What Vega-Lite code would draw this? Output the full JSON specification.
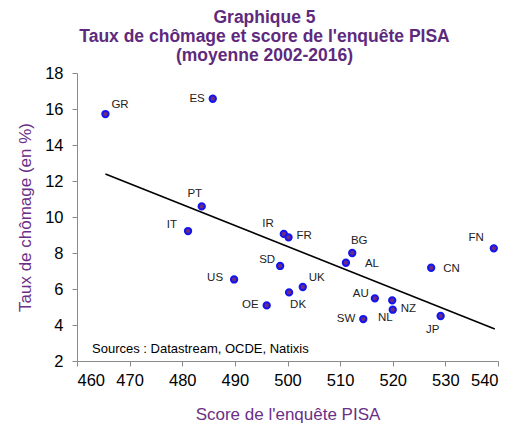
{
  "$schema": "https://vega.github.io/schema/vega-lite/v6.json",
  "width": 421,
  "height": 288,
  "autosize": {"type": "none"},
  "padding": {"left": 77, "top": 73, "right": 29, "bottom": 62},
  "background": "white",
  "title": {
    "text": ["Graphique 5", "Taux de chômage et score de l'enquête PISA", "(moyenne 2002-2016)"],
    "anchor": "middle",
    "frame": "group",
    "dx": -23,
    "offset": 0,
    "font": "Liberation Sans",
    "fontSize": 17.5,
    "fontWeight": "bold",
    "color": "#5e2a7e",
    "lineHeight": 19.3
  },
  "config": {
    "view": {"stroke": null},
    "font": "Liberation Sans",
    "axis": {
      "grid": false,
      "domainColor": "#8a8a8a",
      "tickColor": "#8a8a8a",
      "tickSize": 5,
      "labelFont": "Liberation Sans",
      "labelFontSize": 16.5,
      "labelColor": "#000000",
      "titleFont": "Liberation Sans",
      "titleFontSize": 17,
      "titleFontWeight": "normal",
      "titleColor": "#6a2f86"
    }
  },
  "datasets": {
    "pts": [
      {"c": "GR", "score": 465.4, "u": 15.72},
      {"c": "ES", "score": 485.8, "u": 16.57},
      {"c": "PT", "score": 483.7, "u": 10.59},
      {"c": "IT", "score": 481.1, "u": 9.22},
      {"c": "IR", "score": 499.3, "u": 9.06},
      {"c": "FR", "score": 500.2, "u": 8.87},
      {"c": "SD", "score": 498.6, "u": 7.28},
      {"c": "US", "score": 489.85, "u": 6.53},
      {"c": "DK", "score": 500.3, "u": 5.81},
      {"c": "OE", "score": 496.05, "u": 5.09},
      {"c": "UK", "score": 502.9, "u": 6.11},
      {"c": "BG", "score": 512.3, "u": 8.0},
      {"c": "AL", "score": 511.1, "u": 7.46},
      {"c": "CN", "score": 527.3, "u": 7.18},
      {"c": "FN", "score": 539.2, "u": 8.26},
      {"c": "AU", "score": 516.6, "u": 5.48},
      {"c": "NL", "score": 519.9, "u": 5.37},
      {"c": "NZ", "score": 520.0, "u": 4.85},
      {"c": "SW", "score": 514.4, "u": 4.33},
      {"c": "JP", "score": 529.1, "u": 4.5}
    ],
    "trend": [
      {"score": 465.4, "u": 12.39},
      {"score": 539.4, "u": 3.78}
    ],
    "note": [
      {"score": 462.85, "u": 2.67, "t": "Sources : Datastream, OCDE, Natixis"}
    ]
  },
  "data": {"name": "pts"},
  "encoding": {
    "x": {
      "field": "score", "type": "quantitative",
      "scale": {"domain": [460, 540], "nice": false, "zero": false},
      "axis": {"values": [460, 470, 480, 490, 500, 510, 520, 530, 540], "title": "Score de l'enquête PISA", "labelPadding": 6, "titlePadding": 18}
    },
    "y": {
      "field": "u", "type": "quantitative",
      "scale": {"domain": [2, 18], "nice": false, "zero": false},
      "axis": {"values": [2, 4, 6, 8, 10, 12, 14, 16, 18], "title": "Taux de chômage (en %)", "labelPadding": 9, "titlePadding": 10}
    }
  },
  "layer": [
    {
      "data": {"name": "trend"},
      "mark": {"type": "line", "color": "#000000", "strokeWidth": 1.6},
      "encoding": {}
    },
    {
      "mark": {"type": "point", "shape": "circle", "filled": true, "fill": "#6b2d7d", "stroke": "#1414f0", "strokeWidth": 2, "size": 40, "opacity": 1}
    },
    {
      "transform": [{"filter": {"field": "c", "oneOf": ["ES", "OE", "SW"]}}],
      "mark": {"type": "text", "align": "right", "baseline": "middle", "dx": -8, "dy": 0, "fontSize": 11.5, "color": "#222222"},
      "encoding": {"text": {"field": "c"}}
    },
    {
      "transform": [{"filter": {"field": "c", "oneOf": ["US"]}}],
      "mark": {"type": "text", "align": "right", "baseline": "middle", "dx": -11, "dy": -1, "fontSize": 11.5, "color": "#222222"},
      "encoding": {"text": {"field": "c"}}
    },
    {
      "transform": [{"filter": {"field": "c", "oneOf": ["IT"]}}],
      "mark": {"type": "text", "align": "right", "baseline": "middle", "dx": -11, "dy": -6, "fontSize": 11.5, "color": "#222222"},
      "encoding": {"text": {"field": "c"}}
    },
    {
      "transform": [{"filter": {"field": "c", "oneOf": ["SD"]}}],
      "mark": {"type": "text", "align": "right", "baseline": "middle", "dx": -5, "dy": -6, "fontSize": 11.5, "color": "#222222"},
      "encoding": {"text": {"field": "c"}}
    },
    {
      "transform": [{"filter": {"field": "c", "oneOf": ["IR", "FN"]}}],
      "mark": {"type": "text", "align": "right", "baseline": "middle", "dx": -10, "dy": -10, "fontSize": 11.5, "color": "#222222"},
      "encoding": {"text": {"field": "c"}}
    },
    {
      "transform": [{"filter": {"field": "c", "oneOf": ["AU"]}}],
      "mark": {"type": "text", "align": "right", "baseline": "middle", "dx": -6, "dy": -4, "fontSize": 11.5, "color": "#222222"},
      "encoding": {"text": {"field": "c"}}
    },
    {
      "transform": [{"filter": {"field": "c", "oneOf": ["GR", "UK"]}}],
      "mark": {"type": "text", "align": "left", "baseline": "middle", "dx": 6, "dy": -9, "fontSize": 11.5, "color": "#222222"},
      "encoding": {"text": {"field": "c"}}
    },
    {
      "transform": [{"filter": {"field": "c", "oneOf": ["FR", "NZ"]}}],
      "mark": {"type": "text", "align": "left", "baseline": "middle", "dx": 8, "dy": -1, "fontSize": 11.5, "color": "#222222"},
      "encoding": {"text": {"field": "c"}}
    },
    {
      "transform": [{"filter": {"field": "c", "oneOf": ["CN"]}}],
      "mark": {"type": "text", "align": "left", "baseline": "middle", "dx": 12, "dy": 1, "fontSize": 11.5, "color": "#222222"},
      "encoding": {"text": {"field": "c"}}
    },
    {
      "transform": [{"filter": {"field": "c", "oneOf": ["AL"]}}],
      "mark": {"type": "text", "align": "left", "baseline": "middle", "dx": 19, "dy": 1, "fontSize": 11.5, "color": "#222222"},
      "encoding": {"text": {"field": "c"}}
    },
    {
      "transform": [{"filter": {"field": "c", "oneOf": ["PT"]}}],
      "mark": {"type": "text", "align": "center", "baseline": "middle", "dx": -7, "dy": -12, "fontSize": 11.5, "color": "#222222"},
      "encoding": {"text": {"field": "c"}}
    },
    {
      "transform": [{"filter": {"field": "c", "oneOf": ["BG"]}}],
      "mark": {"type": "text", "align": "center", "baseline": "middle", "dx": 7, "dy": -12, "fontSize": 11.5, "color": "#222222"},
      "encoding": {"text": {"field": "c"}}
    },
    {
      "transform": [{"filter": {"field": "c", "oneOf": ["DK"]}}],
      "mark": {"type": "text", "align": "center", "baseline": "middle", "dx": 9, "dy": 13, "fontSize": 11.5, "color": "#222222"},
      "encoding": {"text": {"field": "c"}}
    },
    {
      "transform": [{"filter": {"field": "c", "oneOf": ["JP"]}}],
      "mark": {"type": "text", "align": "center", "baseline": "middle", "dx": -8, "dy": 14, "fontSize": 11.5, "color": "#222222"},
      "encoding": {"text": {"field": "c"}}
    },
    {
      "transform": [{"filter": {"field": "c", "oneOf": ["NL"]}}],
      "mark": {"type": "text", "align": "center", "baseline": "middle", "dx": -7, "dy": 18, "fontSize": 11.5, "color": "#222222"},
      "encoding": {"text": {"field": "c"}}
    },
    {
      "data": {"name": "note"},
      "mark": {"type": "text", "align": "left", "baseline": "middle", "fontSize": 13, "color": "#000000"},
      "encoding": {"text": {"field": "t"}}
    }
  ]
}
